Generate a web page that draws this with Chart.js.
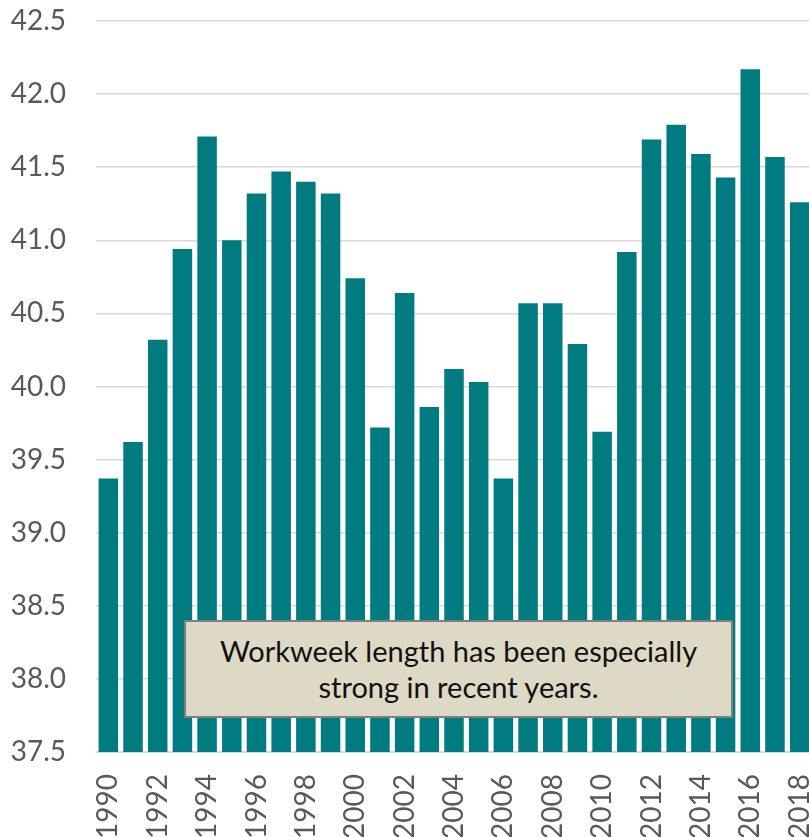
<!DOCTYPE html>
<html>
<head>
<meta charset="utf-8">
<script src="https://cdn.jsdelivr.net/npm/chart.js@4"></script>
<style>
  html, body { margin: 0; padding: 0; background: #fff; overflow: hidden; }
  #wrap { position: relative; width: 812px; height: 837px; }
  #note {
    position: absolute; left: 184px; top: 620px; width: 545px; height: 94px;
    background: #DDD9C4; border: 2px solid #7F7F7F;
    font-family: Lato, sans-serif; font-size: 29px; line-height: 36px;
    color: #111; text-align: center; box-sizing: content-box;
    display: flex; align-items: center; justify-content: center;
  }
</style>
</head>
<body>
<div id="wrap">
  <canvas id="workweekChart" width="812" height="837"></canvas>
  <div id="note">Workweek length has been especially<br>strong in recent years.</div>
</div>
<script>
const years = ['1990','1991','1992','1993','1994','1995','1996','1997','1998','1999',
  '2000','2001','2002','2003','2004','2005','2006','2007','2008','2009',
  '2010','2011','2012','2013','2014','2015','2016','2017','2018'];
const hours = [39.37, 39.62, 40.32, 40.94, 41.71, 41.00, 41.32, 41.47, 41.40, 41.32,
  40.74, 39.72, 40.64, 39.86, 40.12, 40.03, 39.37, 40.57, 40.57, 40.29,
  39.69, 40.92, 41.69, 41.79, 41.59, 41.43, 42.17, 41.57, 41.26];
const yMin = 37.5, yMax = 42.5, yStep = 0.5;

const ctx = document.getElementById('workweekChart').getContext('2d');
const chart = new Chart(ctx, {
  type: 'bar',
  data: {
    labels: years,
    datasets: [{
      data: hours,
      backgroundColor: '#007C80',
      borderWidth: 0,
      barPercentage: 0.79,
      categoryPercentage: 1.0
    }]
  },
  options: {
    responsive: false,
    animation: false,
    layout: { padding: { top: 21, left: 0, right: 0, bottom: 0 } },
    plugins: { legend: { display: false }, tooltip: { enabled: false } },
    scales: {
      x: {
        grid: { display: false, drawTicks: false },
        border: { display: true, color: '#D9D9D9', width: 2 },
        ticks: {
          autoSkip: false,
          maxRotation: 90,
          minRotation: 90,
          padding: 22,
          color: '#595959',
          font: { family: 'Lato, sans-serif', size: 28 },
          callback: function (v, i) { return i % 2 === 0 ? years[i] : ''; }
        },
        afterFit: function (s) {
          s.height = 85;
          s.paddingLeft = 0;
          s.paddingRight = 0;
        }
      },
      y: {
        min: yMin,
        max: yMax,
        grid: { color: '#D9D9D9', lineWidth: 1.5, drawTicks: false },
        border: { display: false },
        ticks: {
          stepSize: yStep,
          padding: 30,
          color: '#595959',
          font: { family: 'Lato, sans-serif', size: 28 },
          callback: function (v) { return v.toFixed(1); }
        },
        afterFit: function (s) {
          s.width = 96;
          s.paddingTop = 0;
          s.paddingBottom = 0;
        }
      }
    }
  }
});
</script>
</body>
</html>
